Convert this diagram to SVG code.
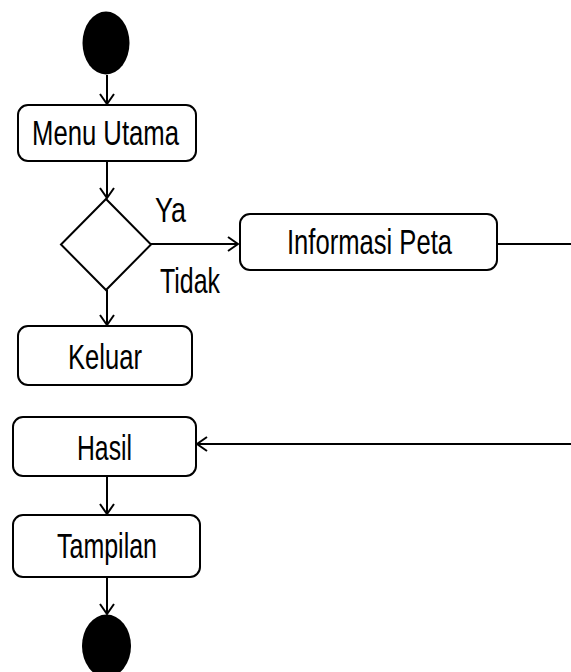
<svg xmlns="http://www.w3.org/2000/svg" width="571" height="672" viewBox="0 0 571 672">
<style>
.box{fill:#fff;stroke:#000;stroke-width:2}
.lbl{font-family:"Liberation Sans",Arial,sans-serif;font-size:35px;fill:#000}
.ln{fill:none;stroke:#000;stroke-width:2}
.dot{fill:#000}
</style>
<defs>
<marker id="arr" markerUnits="userSpaceOnUse" viewBox="0 0 12 16" refX="11" refY="8" markerWidth="12" markerHeight="16" orient="auto">
<path d="M1,1 L11,8 L1,15" fill="none" stroke="#000" stroke-width="2"/>
</marker>
</defs>
<rect width="571" height="672" fill="#fff"/>
<g id="connectors">
<line class="ln" x1="107" y1="75" x2="107" y2="104" marker-end="url(#arr)"/>
<line class="ln" x1="107" y1="161" x2="107" y2="198" marker-end="url(#arr)"/>
<line class="ln" x1="150" y1="244" x2="238" y2="244" marker-end="url(#arr)"/>
<line class="ln" x1="497" y1="244" x2="571" y2="244"/>
<line class="ln" x1="107" y1="290" x2="107" y2="325" marker-end="url(#arr)"/>
<line class="ln" x1="571" y1="444" x2="197" y2="444" marker-end="url(#arr)"/>
<line class="ln" x1="107" y1="476" x2="107" y2="514" marker-end="url(#arr)"/>
<line class="ln" x1="107" y1="577" x2="107" y2="614" marker-end="url(#arr)"/>
</g>
<g id="start"><ellipse class="dot" cx="106" cy="43" rx="23.5" ry="31.5"/></g>
<g id="menu-utama">
<rect class="box" x="18" y="105" width="178" height="56" rx="10"/>
<text class="lbl" x="32" y="145" textLength="147" lengthAdjust="spacingAndGlyphs">Menu Utama</text>
</g>
<g id="decision">
<polygon class="box" points="106,199 151,244.5 106,290 61,244.5"/>
<text class="lbl" x="155" y="222" textLength="31" lengthAdjust="spacingAndGlyphs">Ya</text>
<text class="lbl" x="160" y="293" textLength="60" lengthAdjust="spacingAndGlyphs">Tidak</text>
</g>
<g id="informasi-peta">
<rect class="box" x="240" y="214" width="257" height="56" rx="10"/>
<text class="lbl" x="287" y="254" textLength="165" lengthAdjust="spacingAndGlyphs">Informasi Peta</text>
</g>
<g id="keluar">
<rect class="box" x="18" y="326" width="174" height="59" rx="10"/>
<text class="lbl" x="68" y="369" textLength="74" lengthAdjust="spacingAndGlyphs">Keluar</text>
</g>
<g id="hasil">
<rect class="box" x="13" y="417" width="183" height="59" rx="10"/>
<text class="lbl" x="77" y="460" textLength="55" lengthAdjust="spacingAndGlyphs">Hasil</text>
</g>
<g id="tampilan">
<rect class="box" x="13" y="515" width="187" height="62" rx="10"/>
<text class="lbl" x="57" y="558" textLength="100" lengthAdjust="spacingAndGlyphs">Tampilan</text>
</g>
<g id="end"><ellipse class="dot" cx="106.5" cy="646" rx="24.5" ry="31.5"/></g>
</svg>
